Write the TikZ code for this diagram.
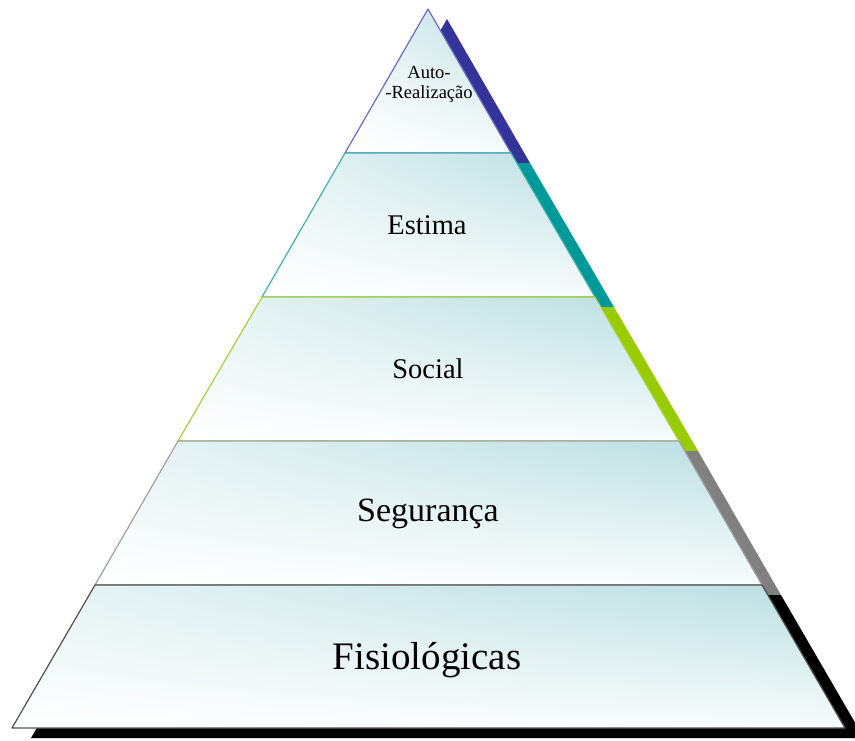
\documentclass[tikz,border=0pt]{standalone}
\usepackage{fontspec}
\setmainfont{Liberation Serif}
\usetikzlibrary{shadings}
\definecolor{navyc}{HTML}{333399}
\definecolor{tealc}{HTML}{009999}
\definecolor{limec}{HTML}{99CC00}
\definecolor{grayc}{HTML}{808080}
\definecolor{navyline}{HTML}{6B6BBF}
\definecolor{tealline}{HTML}{40B0B0}
\definecolor{limeline}{HTML}{A8D040}
\definecolor{grayline}{HTML}{A0A0A0}
\definecolor{darkline}{HTML}{505050}
\definecolor{glow}{HTML}{B8DDE0}
\definecolor{glowleft}{HTML}{E8F4F5}
\definecolor{glowlow}{HTML}{F8FCFC}
\tikzset{
  band/.style={line width=1.2pt, line join=round,
    upper left=glowleft, upper right=glow, lower left=white, lower right=glowlow},
  label/.style={inner sep=0pt, align=center}
}
\begin{document}
\begin{tikzpicture}[x=1pt,y=-1pt]
\useasboundingbox (0,0) rectangle (855,740);

% shadows
\begin{scope}[shift={(19,10)}]
  \fill[navyc] (428,9) -- (345,153) -- (511,153) -- cycle;
  \fill[tealc] (345,153) -- (262,297) -- (595,297) -- (511,153) -- cycle;
  \fill[limec] (262,297) -- (178,441) -- (679,441) -- (595,297) -- cycle;
  \fill[grayc] (178,441) -- (95,585) -- (762,585) -- (679,441) -- cycle;
  \fill[black] (95,585) -- (12,728) -- (845,728) -- (762,585) -- cycle;
\end{scope}

% levels
\shadedraw[band, draw=navyline] (428,9) -- (345,153) -- (511,153) -- cycle;
\shadedraw[band, draw=tealline] (345,153) -- (262,297) -- (595,297) -- (511,153) -- cycle;
\shadedraw[band, draw=limeline] (262,297) -- (178,441) -- (679,441) -- (595,297) -- cycle;
\shadedraw[band, draw=grayline] (178,441) -- (95,585) -- (762,585) -- (679,441) -- cycle;
\shadedraw[band, draw=darkline] (95,585) -- (12,728) -- (845,728) -- (762,585) -- cycle;

\node[label, font=\fontsize{18.5}{20}\selectfont] (auto) at (429,84) {Auto-\\-Realização};
\node[label, font=\fontsize{28.5}{30}\selectfont] (estima) at (427,225) {Estima};
\node[label, font=\fontsize{28.5}{30}\selectfont] (social) at (428,369) {Social};
\node[label, font=\fontsize{34}{36}\selectfont] (seguranca) at (428,514) {Segurança};
\node[label, font=\fontsize{39}{42}\selectfont] (fisio) at (427,660) {Fisiológicas};
\end{tikzpicture}
\end{document}
